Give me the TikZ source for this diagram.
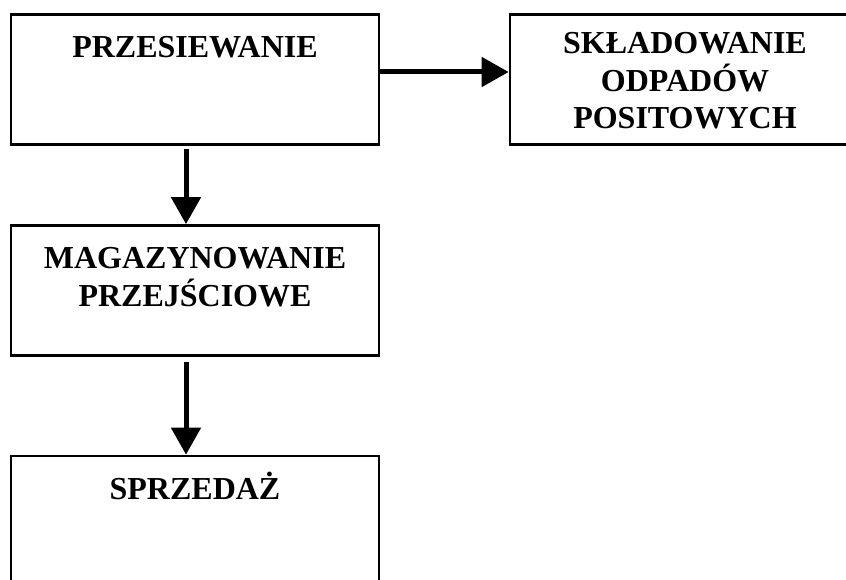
\documentclass[tikz,border=0pt]{standalone}
\usepackage{fontspec}
\setmainfont{Liberation Serif}
\usetikzlibrary{arrows.meta}

\tikzset{
  stage/.style={draw, line width=2.7pt, minimum width=368pt, minimum height=130pt, inner sep=0pt},
  stagetext/.style={anchor=north, inner sep=0pt, align=center,
    font=\bfseries\fontsize{32}{37.5}\selectfont},
}

\begin{document}
\begin{tikzpicture}[x=1pt,y=1pt,>={Triangle[length=27pt,width=29pt]}]
		% page frame
		\useasboundingbox (0,0) rectangle (846,-580);
		\clip (0,0) rectangle (846,-580);

		% the stages
		\node[stage, label={[stagetext, yshift=-23pt]north:PRZESIEWANIE}] (przes) at (195,-79.5) {};
		\node[stage, minimum width=350pt, label={[stagetext, yshift=-19pt]north:{SKŁADOWANIE\\ODPADÓW\\POSITOWYCH}}] (sklad) at (685,-79.5) {};
		\node[stage, label={[stagetext, yshift=-23pt]north:{MAGAZYNOWANIE\\PRZEJŚCIOWE}}] (mag) at (195,-290.5) {};
		\node[stage, label={[stagetext, text height=21.2pt, yshift=-23pt]north:SPRZEDAŻ}] (sprz) at (195,-521) {};

		% flow between the stages
		\draw[->, line width=5pt] ([yshift=7.5pt]przes.east) -- ([yshift=7.5pt]sklad.west);
		\draw[->, line width=5pt, shorten <=3pt] ([xshift=-9pt]przes.south) -- ([xshift=-9pt]mag.north);
		\draw[->, line width=5pt, shorten <=5pt] ([xshift=-9pt]mag.south) -- ([xshift=-9pt]sprz.north);
\end{tikzpicture}
\end{document}
